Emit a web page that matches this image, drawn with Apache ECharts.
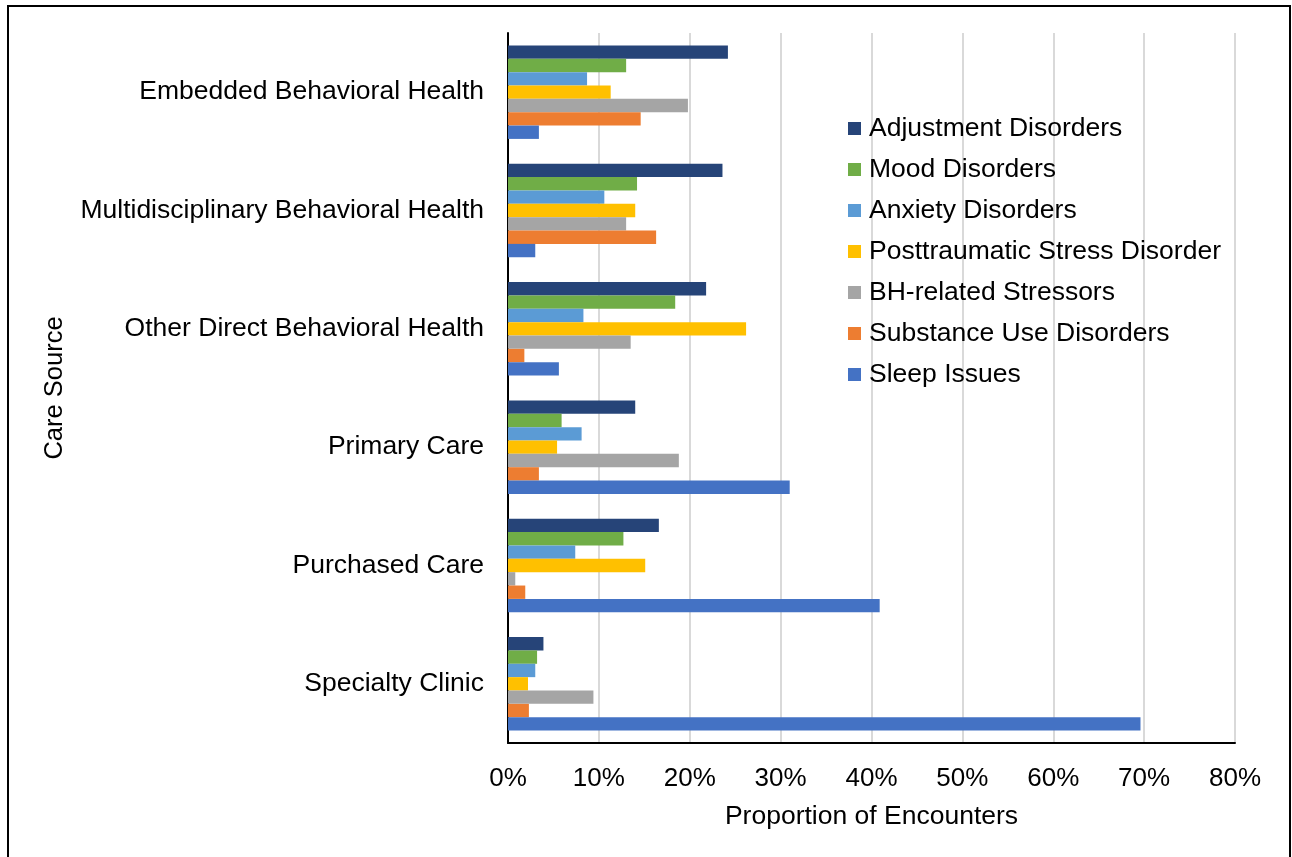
<!DOCTYPE html>
<html>
<head>
<meta charset="utf-8">
<script src="https://cdn.jsdelivr.net/npm/echarts@6/dist/echarts.min.js"></script>
<style>
html,body{margin:0;padding:0;background:#fff;}
#chart{width:1292px;height:857px;}
</style>
</head>
<body>
<div id="chart"></div>
<script>
var categories = ["Embedded Behavioral Health", "Multidisciplinary Behavioral Health", "Other Direct Behavioral Health", "Primary Care", "Purchased Care", "Specialty Clinic"];
var seriesNames = ["Adjustment Disorders", "Mood Disorders", "Anxiety Disorders", "Posttraumatic Stress Disorder", "BH-related Stressors", "Substance Use Disorders", "Sleep Issues"];
var adjustment = [24.2, 23.6, 21.8, 14.0, 16.6, 3.9];
var mood = [13.0, 14.2, 18.4, 5.9, 12.7, 3.2];
var anxiety = [8.7, 10.6, 8.3, 8.1, 7.4, 3.0];
var ptsd = [11.3, 14.0, 26.2, 5.4, 15.1, 2.2];
var stressors = [19.8, 13.0, 13.5, 18.8, 0.8, 9.4];
var substance = [14.6, 16.3, 1.8, 3.4, 1.9, 2.3];
var sleep = [3.4, 3.0, 5.6, 31.0, 40.9, 69.6];
var xTicks = [0, 10, 20, 30, 40, 50, 60, 70, 80];
var colors = ["#264478", "#70AD47", "#5B9BD5", "#FFC000", "#A5A5A5", "#ED7D31", "#4472C4"];
var values = [adjustment, mood, anxiety, ptsd, stressors, substance, sleep];

var font = "Liberation Sans, Arial, sans-serif";
var chart = echarts.init(document.getElementById('chart'));
var series = seriesNames.map(function (n, i) {
  return {
    name: n,
    type: 'bar',
    data: values[i],
    barGap: '0%',
    barCategoryGap: '21%',
    itemStyle: { color: colors[i] },
    emphasis: { disabled: true }
  };
});
chart.setOption({
  animation: false,
  backgroundColor: '#fff',
  textStyle: { fontFamily: font },
  grid: { left: 508, right: 57, top: 33, bottom: 114, containLabel: false },
  legend: {
    orient: 'vertical',
    left: 843,
    top: 110,
    itemWidth: 13,
    itemHeight: 13,
    itemGap: 14,
    icon: 'rect',
    data: seriesNames,
    textStyle: { fontFamily: font, fontSize: 26.5, color: '#000', lineHeight: 26, padding: [0, 0, 0, 3] }
  },
  xAxis: {
    type: 'value',
    min: xTicks[0],
    max: xTicks[xTicks.length - 1],
    interval: xTicks[1] - xTicks[0],
    name: 'Proportion of Encounters',
    nameLocation: 'middle',
    nameGap: 60,
    nameTextStyle: { fontFamily: font, fontSize: 26.5, color: '#000' },
    axisLine: { show: true, onZero: false, lineStyle: { color: '#000', width: 2 } },
    axisTick: { show: false },
    axisLabel: { formatter: '{value}%', fontFamily: font, fontSize: 26, color: '#000', margin: 23 },
    splitLine: { show: true, lineStyle: { color: '#d9d9d9', width: 2 } }
  },
  yAxis: {
    type: 'category',
    data: categories,
    inverse: true,
    name: 'Care Source',
    nameLocation: 'middle',
    nameGap: 440,
    nameRotate: 90,
    nameTextStyle: { fontFamily: font, fontSize: 25.5, color: '#000' },
    axisLine: { show: true, lineStyle: { color: '#000', width: 2 } },
    axisTick: { show: false },
    axisLabel: { fontFamily: font, fontSize: 26.5, color: '#000', margin: 24, padding: [6, 0, 0, 0] },
    splitLine: { show: false }
  },
  graphic: [{
    type: 'polyline',
    shape: { points: [[8, 857], [8, 6], [1290, 6], [1290, 857]] },
    style: { stroke: '#000', lineWidth: 2, fill: null },
    silent: true
  }],
  series: series
});
</script>
</body>
</html>
